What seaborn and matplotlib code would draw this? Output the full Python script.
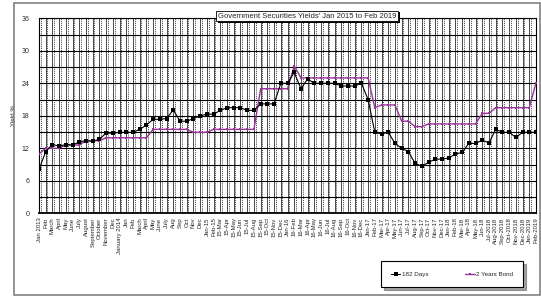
import matplotlib
matplotlib.use("Agg")
import matplotlib.pyplot as plt
import matplotlib.patheffects as pe
from matplotlib.patches import Rectangle
from matplotlib.ticker import FixedLocator, MultipleLocator
import seaborn as sns
import pandas as pd

months = ["Jan 2013", "Feb", "March", "April", "May", "June", "July", "August",
          "September", "October", "November", "Dec", "January 2014", "Jan", "Feb",
          "March", "April", "May", "June", "July", "Aug", "Sep", "Oct", "Nov", "Dec",
          "Jan-15", "Feb-15", "15-Mar", "15-Apr", "15-May", "15-Jun", "15-Jul",
          "15-Aug", "15-Sep", "15-Oct", "15-Nov", "15-Dec", "Jan-16", "16-Feb",
          "16-Mar", "16-Apr", "16-May", "16-Jun", "16-Jul", "16-Aug", "16-Sep",
          "16-Oct", "16-Nov", "16-Dec", "Jan-17", "Feb-17", "Mar-17", "Apr-17",
          "May-17", "Jun-17", "Jul-17", "Aug-17", "Sep-17", "Oct-17", "Nov-17",
          "Dec-17", "Jan-18", "Feb-18", "Mar-18", "Apr-18", "May-18", "Jun-18",
          "Jul-2018", "Aug-2018", "Sep-2018", "Oct-2018", "Nov-2018", "Dec-2018",
          "Jan-2019", "Feb-2019"]

days_182 = [8.1, 11.4, 12.7, 12.4, 12.7, 12.6, 13.2, 13.4, 13.3, 13.7,
            14.8, 14.8, 14.95, 14.95, 14.95, 15.5, 16.3, 17.35, 17.35, 17.5,
            19.1, 17.0, 17.0, 17.5, 18.0, 18.3, 18.3, 19.0, 19.5, 19.5,
            19.5, 19.0, 19.0, 20.2, 20.2, 20.2, 24.0, 24.0, 26.0, 23.0,
            24.8, 24.0, 24.0, 24.0, 24.0, 23.5, 23.5, 23.5, 24.0, 21.0,
            14.95, 14.65, 14.95, 12.9, 12.0, 11.4, 9.2, 8.7, 9.4, 10.0,
            10.0, 10.2, 10.95, 11.25, 12.9, 12.9, 13.5, 13.0, 15.5, 14.95,
            14.95, 14.0, 14.95, 14.95, 14.95]

bond_2y = [10.95, 12.0, 12.0, 12.0, 12.6, 12.6, 12.6, 13.4, 13.4, 13.4,
           13.95, 13.95, 13.95, 13.95, 13.95, 13.95, 13.95, 15.5, 15.5, 15.5,
           15.5, 15.5, 15.5, 14.95, 14.95, 14.95, 15.5, 15.5, 15.5, 15.5,
           15.5, 15.5, 15.5, 23.0, 23.0, 23.0, 23.0, 23.0, 27.2, 25.0,
           25.0, 25.0, 25.0, 25.0, 25.0, 25.0, 25.0, 25.0, 25.0, 25.0,
           19.5, 20.0, 20.0, 20.0, 17.0, 17.0, 16.0, 16.0, 16.5, 16.5,
           16.5, 16.5, 16.5, 16.5, 16.5, 16.5, 18.45, 18.45, 19.5, 19.5,
           19.5, 19.5, 19.5, 19.5, 24.1]

y_ticks = [0, 6, 12, 18, 24, 30, 36]

sns.set_style("white")
plt.rcParams["font.family"] = ["Liberation Sans", "DejaVu Sans"]

fig = plt.figure(figsize=(5.41, 2.97), dpi=100)
ax = fig.add_axes([0.0721, 0.2818, 0.9187, 0.6566])

idx = list(range(len(months)))
df = pd.DataFrame({"idx": idx, "days": days_182, "bond": bond_2y})

sns.lineplot(data=df, x="idx", y="days", ax=ax, color="black", lw=0.8,
             marker="s", markersize=2.4, markeredgewidth=0, label="182 Days",
             sort=False, zorder=4)
sns.lineplot(data=df, x="idx", y="bond", ax=ax, color="#993399", lw=1.0,
             marker="s", markersize=1.6, markeredgewidth=0, label="2 Years Bond",
             sort=False, zorder=3)

ax.set_xlim(0, len(months) - 1)
ax.set_ylim(0, 36)

ax.set_xticks(idx)
ax.set_xticklabels(months, rotation=90, fontsize=4.3)
ax.set_yticks(y_ticks)
ax.tick_params(axis="y", labelsize=5, length=0, pad=7)
ax.tick_params(axis="x", length=0, pad=3)
ax.xaxis.set_minor_locator(FixedLocator([i + 0.25 for i in idx[:-1]]))
ax.yaxis.set_minor_locator(MultipleLocator(3))
ax.tick_params(which="minor", length=0)

ax.grid(True, which="major", axis="x", color="black", lw=0.5, ls="-")
ax.grid(True, which="minor", axis="x", color="black", lw=0.5, ls=(0, (1.5, 1.5)))
ax.grid(True, which="major", axis="y", color="black", lw=0.8, ls="-")
ax.grid(True, which="minor", axis="y", color="black", lw=0.8, ls="-")
ax.set_axisbelow(True)

for s in ax.spines.values():
    s.set_color("black")
    s.set_linewidth(0.8)
ax.spines["bottom"].set_linewidth(1.3)

ax.set_xlabel("")
ax.set_ylabel("Yield %", fontsize=4.5, labelpad=4)

ax.legend_.remove()
handles, labels = ax.get_legend_handles_labels()
leg = fig.legend(handles, labels, loc="lower left",
                 bbox_to_anchor=(0.6987, 0.0236, 0.2736, 0.0943),
                 mode="expand", ncol=2, fontsize=4.5, frameon=True,
                 fancybox=False, edgecolor="black", borderpad=1.6,
                 handlelength=1.5, handletextpad=0.2, shadow=True)
leg.get_frame().set_linewidth(0.8)

t = fig.text(0.568, 0.946, "Government Securities Yields' Jan 2015 to Feb 2019",
             fontsize=5.5, ha="center", va="center", zorder=10,
             bbox=dict(boxstyle="square,pad=0.25", fc="white", ec="black", lw=0.6))
t.get_bbox_patch().set_path_effects([
    pe.SimplePatchShadow(offset=(1.2, -1.2), shadow_rgbFace="black", alpha=1.0),
    pe.Normal()])

fig.patches.append(Rectangle((0.0259, 0.0067), 0.972, 0.983,
                             transform=fig.transFigure, fill=False,
                             ec="#808080", lw=1.2, zorder=0))

fig.savefig("out.png", dpi=100)
